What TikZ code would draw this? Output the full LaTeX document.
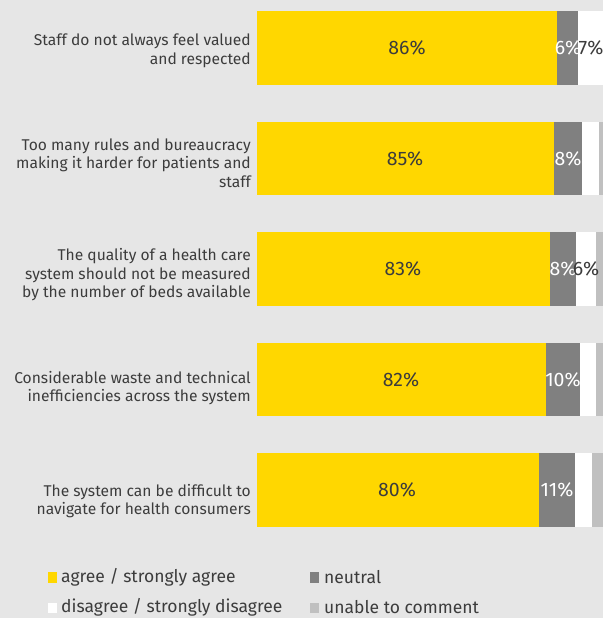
\documentclass[tikz,border=0pt]{standalone}
\usepackage{fontspec}
\setmainfont{Fira Sans}
\definecolor{agreeyellow}{HTML}{FFD700}
\definecolor{neutralgray}{HTML}{808080}
\definecolor{unablegray}{HTML}{C0C0C0}
\definecolor{backgray}{HTML}{E6E6E6}
\definecolor{textgray}{HTML}{3C3C3C}
\begin{document}
\begin{tikzpicture}[x=1pt, y=-1pt,
    every node/.style={text=textgray, inner sep=0pt},
    label/.style={font=\fontsize{15.6}{18.5}\selectfont, align=right, anchor=east},
    pct/.style={font=\fontsize{19.5}{19.5}\selectfont},
    pctlight/.style={pct, text=white},
    legend/.style={font=\fontsize{17.5}{17.5}\selectfont, anchor=west},
    swatch/.style={minimum width=9pt, minimum height=10.5pt, anchor=west}]
    % Background
    \fill[backgray] (0,0) rectangle (603,618);
    \useasboundingbox (0,0) rectangle (603,618);

    % Bar 1 - staff valued
    \fill[agreeyellow] (257,11.3) rectangle (557,84.7);
    \fill[neutralgray] (557,11.3) rectangle (578,84.7);
    \fill[white] (578,11.3) rectangle (603,84.7);
    \node[label] (lab1) at (251,51) {Staff do not always feel valued\\and respected};
    \node[pct] (agr1) at (407,48) {86\%};
    \node[pctlight] (neu1) at (568,48) {6\%};
    \node[pct] (dis1) at (591,48) {7\%};

    % Bar 2 - rules and bureaucracy
    \fill[agreeyellow] (257,122) rectangle (554,195.3);
    \fill[neutralgray] (554,122) rectangle (582,195.3);
    \fill[white] (582,122) rectangle (598.5,195.3);
    \fill[unablegray] (598.5,122) rectangle (603,195.3);
    \node[label] (lab2) at (251,163) {Too many rules and bureaucracy\\making it harder for patients and\\staff};
    \node[pct] (agr2) at (405,158.7) {85\%};
    \node[pctlight] (neu2) at (568,158.7) {8\%};

    % Bar 3 - quality measured by beds
    \fill[agreeyellow] (257,232.3) rectangle (549.5,305.7);
    \fill[neutralgray] (549.5,232.3) rectangle (576,305.7);
    \fill[white] (576,232.3) rectangle (595.7,305.7);
    \fill[unablegray] (595.7,232.3) rectangle (603,305.7);
    \node[label] (lab3) at (251,275) {The quality of a health care\\system should not be measured\\by the number of beds available};
    \node[pct] (agr3) at (403,269) {83\%};
    \node[pctlight] (neu3) at (563,269) {8\%};
    \node[pct] (dis3) at (586,269) {6\%};

    % Bar 4 - waste and inefficiencies
    \fill[agreeyellow] (257,343.3) rectangle (545.7,416.3);
    \fill[neutralgray] (545.7,343.3) rectangle (580,416.3);
    \fill[white] (580,343.3) rectangle (595.7,416.3);
    \fill[unablegray] (595.7,343.3) rectangle (603,416.3);
    \node[label] (lab4) at (251,388) {Considerable waste and technical\\inefficiencies across the system};
    \node[pct] (agr4) at (401,379.8) {82\%};
    \node[pctlight] (neu4) at (563,379.8) {10\%};

    % Bar 5 - difficult to navigate
    \fill[agreeyellow] (257,453.3) rectangle (538.5,527);
    \fill[neutralgray] (538.5,453.3) rectangle (575.3,527);
    \fill[white] (575.3,453.3) rectangle (592,527);
    \fill[unablegray] (592,453.3) rectangle (603,527);
    \node[label] (lab5) at (251,501) {The system can be difficult to\\navigate for health consumers};
    \node[pct] (agr5) at (397,490.2) {80\%};
    \node[pctlight] (neu5) at (557,490.2) {11\%};

    % Legend
    \node[swatch, fill=agreeyellow] (swagr) at (48,577.5) {};
    \node[legend] (legagr) at (61,577) {agree / strongly agree};
    \node[swatch, fill=neutralgray] (swneu) at (310,577.5) {};
    \node[legend] (legneu) at (324,577) {neutral};
    \node[swatch, fill=white] (swdis) at (48,608) {};
    \node[legend] (legdis) at (61,607.5) {disagree / strongly disagree};
    \node[swatch, fill=unablegray] (swuna) at (310,608) {};
    \node[legend] (leguna) at (324,607.5) {unable to comment};
\end{tikzpicture}
\end{document}
